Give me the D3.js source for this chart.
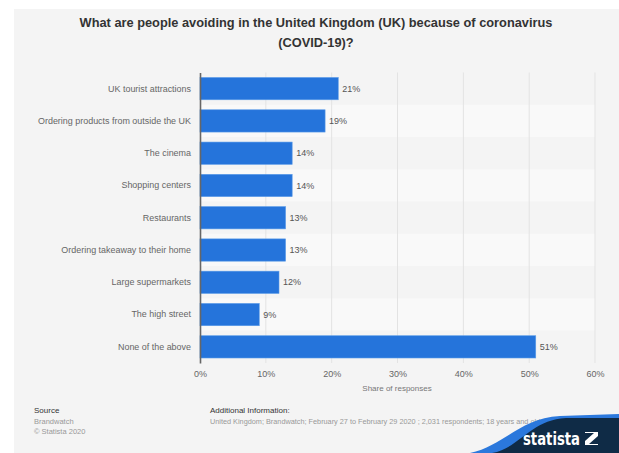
<!DOCTYPE html>
<html>
<head>
<meta charset="utf-8">
<script src="https://cdn.jsdelivr.net/npm/d3@7"></script>
<style>
  html, body { margin: 0; padding: 0; background: #fff; }
  svg { display: block; font-family: "Liberation Sans", Arial, sans-serif; }
</style>
</head>
<body>
<svg id="chart" width="619" height="453"></svg>
<script>
// Survey answers, top to bottom
const categories = [
  "UK tourist attractions",
  "Ordering products from outside the UK",
  "The cinema",
  "Shopping centers",
  "Restaurants",
  "Ordering takeaway to their home",
  "Large supermarkets",
  "The high street",
  "None of the above"
];
const shares = [21, 19, 14, 14, 13, 13, 12, 9, 51];
const xTicks = [0, 10, 20, 30, 40, 50, 60];

const titleLines = [
  "What are people avoiding in the United Kingdom (UK) because of coronavirus",
  "(COVID-19)?"
];
const sourceLines = ["Brandwatch", "\u00a9 Statista 2020"];
const infoLine = "United Kingdom; Brandwatch; February 27 to February 29 2020 ; 2,031 respondents; 18 years and older";

const svg = d3.select("#chart");

// Panel background
svg.append("rect").attr("x", 14).attr("y", 9).attr("width", 605).attr("height", 444).attr("fill", "#f4f4f4");

// Title
svg.append("g").selectAll("text").data(titleLines).join("text")
  .attr("x", 316).attr("y", (d, i) => 27 + i * 20)
  .attr("text-anchor", "middle")
  .attr("font-size", 12.8).attr("font-weight", "bold").attr("fill", "#333")
  .text(d => d);

const x = d3.scaleLinear().domain([0, 60]).range([200, 595]);
const y = d3.scaleBand().domain(categories).range([72.5, 363]).paddingInner(0.31).paddingOuter(0.155);
const row = d3.scaleBand().domain(categories).range([72.5, 363]);

// Alternating row stripes
svg.append("g").selectAll("rect").data(categories).join("rect")
  .attr("x", x(0)).attr("width", x(60) - x(0))
  .attr("y", d => row(d)).attr("height", row.bandwidth())
  .attr("fill", (d, i) => i % 2 ? "#f9f9f9" : "#f4f4f4");

// Vertical gridlines
svg.append("g").selectAll("line").data(xTicks.slice(1)).join("line")
  .attr("x1", d => x(d)).attr("x2", d => x(d))
  .attr("y1", 72.5).attr("y2", 363)
  .attr("stroke", "#e3e3e3").attr("stroke-width", 1);

// Bars
svg.append("g").selectAll("rect").data(shares).join("rect")
  .attr("x", x(0))
  .attr("y", (d, i) => y(categories[i]))
  .attr("width", d => x(d) - x(0))
  .attr("height", y.bandwidth())
  .attr("fill", "#2574db")
  .attr("stroke", "#5a9be8").attr("stroke-width", 0.6);

// Value labels
svg.append("g").selectAll("text").data(shares).join("text")
  .attr("x", d => x(d) + 4)
  .attr("y", (d, i) => y(categories[i]) + y.bandwidth() / 2)
  .attr("dy", "0.35em")
  .attr("font-size", 9).attr("fill", "#555")
  .text(d => d + "%");

// Category axis
const yAxis = svg.append("g").attr("transform", `translate(${x(0)},0)`)
  .call(d3.axisLeft(row).tickSize(0).tickPadding(9));
yAxis.select(".domain").attr("stroke", "#666").attr("stroke-width", 1.6);
yAxis.selectAll("text").attr("font-size", 8.95).attr("fill", "#666")
  .attr("font-family", "Liberation Sans, Arial, sans-serif");

// Value axis
const xAxis = svg.append("g").attr("transform", "translate(0,363)")
  .call(d3.axisBottom(x).tickValues(xTicks).tickFormat(d => d + "%").tickSize(0).tickPadding(8));
xAxis.select(".domain").remove();
xAxis.selectAll("text").attr("font-size", 9).attr("fill", "#666")
  .attr("font-family", "Liberation Sans, Arial, sans-serif");

svg.append("text").attr("x", 397).attr("y", 391)
  .attr("text-anchor", "middle").attr("font-size", 8).attr("fill", "#777")
  .text("Share of responses");

// Footer: source and additional information
svg.append("text").attr("x", 34).attr("y", 413).attr("font-size", 8).attr("fill", "#333").text("Source");
svg.append("g").selectAll("text").data(sourceLines).join("text")
  .attr("x", 34).attr("y", (d, i) => 424 + i * 9.5)
  .attr("font-size", 7.5).attr("fill", "#999").text(d => d);
svg.append("text").attr("x", 210).attr("y", 413).attr("font-size", 8).attr("fill", "#333").text("Additional Information:");
svg.append("text").attr("x", 210).attr("y", 424).attr("font-size", 7.3).attr("fill", "#999").text(infoLine);

// Brand corner
const brand = svg.append("g");
brand.append("path")
  .attr("d", "M 470 453 C 505 445, 520 418, 560 416 L 619 414 L 619 453 Z")
  .attr("fill", "#2b78dc");
brand.append("path")
  .attr("d", "M 492 453 C 520 448, 530 420, 566 418 L 619 418 L 619 453 Z")
  .attr("fill", "#0f2b46");
brand.append("text").attr("x", 523).attr("y", 445)
  .attr("font-size", 17).attr("font-weight", "bold").attr("fill", "#fff")
  .attr("font-family", "'Liberation Sans Narrow', 'DejaVu Sans Condensed', Roboto, sans-serif")
  .attr("textLength", 57).attr("lengthAdjust", "spacingAndGlyphs")
  .text("statista");
brand.append("path")
  .attr("d", "M 585 432 L 598 432 L 598 436 L 589 444 L 598 444 L 598 445 L 585 445 L 585 441 L 594 433 L 585 433 Z")
  .attr("fill", "#fff");
</script>
</body>
</html>
